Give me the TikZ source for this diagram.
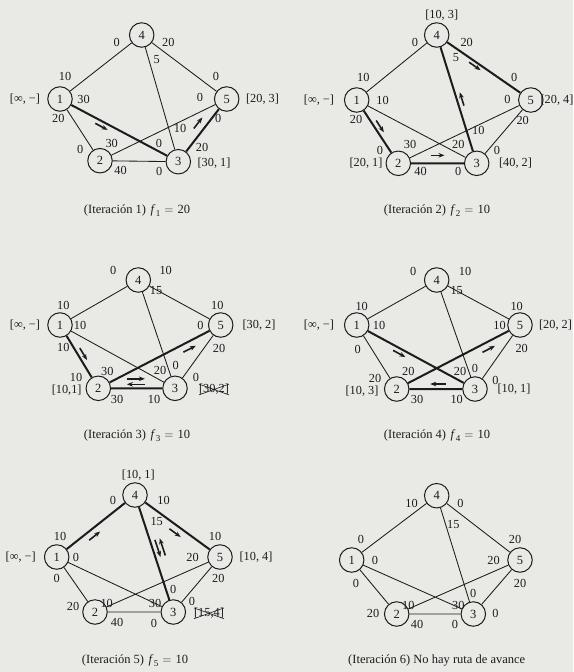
\documentclass[tikz,border=0pt]{standalone}
\usepackage{fontspec}
\setmainfont{Liberation Serif}
\usetikzlibrary{calc,arrows.meta}
\definecolor{bgc}{RGB}{233,233,230}
\definecolor{ink}{RGB}{28,28,28}
\tikzset{
  nd/.style={circle,draw=ink,line width=1pt,minimum size=24.5pt,inner sep=0pt,text=ink,font=\fontsize{12.5}{14}\selectfont},
  lbl/.style={inner sep=0pt,text=ink,font=\fontsize{12.3}{14}\selectfont},
  captxt/.style={inner sep=0pt,text=ink,font=\fontsize{12.5}{15}\selectfont},
  ed/.style={draw=ink,line width=0.85pt},
  edt/.style={draw=ink,line width=2pt},
  flowar/.style={draw=ink,line width=1.6pt,-{Stealth[length=6pt,width=4.6pt]}},
  rflowar/.style={draw=ink,line width=1.6pt,{Stealth[length=6pt,width=4.6pt]}-},
  xout/.style={draw=ink,line width=0.6pt}
}
\newcount\lbn
\def\lb(#1,#2)#3{\global\advance\lbn by 1\relax\node[lbl] (t\the\lbn) at (#1,#2) {#3};}
\def\flwlen{7pt}
\newcommand\flw[6][flowar]{\draw[#1] ($(#2)!#4!(#3)!\flwlen!(#2)!#5!#6:(#3)$) -- ($(#2)!#4!(#3)!\flwlen!(#3)!#5!#6:(#3)$);}
\newcommand\itf[1]{\hspace{4.5pt}\textit{f}\kern0.4pt\raisebox{-2.6pt}{\fontsize{9}{9}\selectfont #1}\hspace{4pt}$=$\hspace{4pt}}
\begin{document}
\begin{tikzpicture}[x=1pt,y=-1pt]
\fill[bgc] (0,0) rectangle (573,672);
\useasboundingbox (0,0) rectangle (573,672);

% ================= Panel 1
\node[nd] (a1) at (60,99) {1};
\node[nd] (a2) at (100,160.7) {2};
\node[nd] (a3) at (178.3,161.7) {3};
\node[nd] (a4) at (141.7,35) {4};
\node[nd] (a5) at (226.7,99) {5};
\draw[ed] (a1)--(a4) (a4)--(a5) (a4)--(a3) (a1)--(a2) (a2)--(a5) (a2)--(a3);
\draw[edt] (a1)--(a3) (a3)--(a5);
\flw{a1}{a3}{0.37}{5pt}{-90}
\flw{a3}{a5}{0.54}{8pt}{90}
\lb(116.7,42.7){0} \lb(168.3,42.7){20} \lb(156.7,59.3){5}
\lb(65,76.7){10} \lb(83.5,99){30} \lb(58.3,118.3){20} \lb(25,99){[∞, −]}
\lb(216,76.7){0} \lb(200,97.3){0} \lb(218.3,118.8){0} \lb(262.5,99){[20, 3]}
\lb(80.2,149){0} \lb(111.7,143.3){30} \lb(120.5,170.5){40}
\lb(159,143.3){0} \lb(180,128.3){10} \lb(202,147.3){20} \lb(159.3,171){0} \lb(214,163.3){[30, 1]}
\node[captxt] (c1) at (137,210.7) {(Iteración 1)\itf{1}20};

% ================= Panel 2
\node[nd] (b1) at (356.7,100) {1};
\node[nd] (b2) at (398.3,163.3) {2};
\node[nd] (b3) at (476.7,163.3) {3};
\node[nd] (b4) at (436.7,35) {4};
\node[nd] (b5) at (530.8,100) {5};
\draw[ed] (b1)--(b4) (b1)--(b3) (b2)--(b5) (b3)--(b5);
\draw[edt] (b1)--(b2) (b2)--(b3) (b3)--(b4) (b4)--(b5);
\flw{b1}{b2}{0.46}{5pt}{90}
\flw{b2}{b3}{0.5}{8pt}{90}
\flw{b3}{b4}{0.49}{5pt}{-90}
\flw{b4}{b5}{0.43}{4pt}{-90}
\lb(441.7,15){[10, 3]} \lb(415,42.7){0} \lb(466.7,42.7){20} \lb(456,57.3){5}
\lb(363.3,77.3){10} \lb(382.5,100){10} \lb(356,119.8){20} \lb(319,100){[∞, −]}
\lb(514.3,77.3){0} \lb(507.5,99.3){0} \lb(522.7,120.5){20} \lb(557,100){[20, 4]}
\lb(380,150.7){0} \lb(410,144){30} \lb(420.5,171){40} \lb(366,163.3){[20, 1]}
\lb(458.3,144){20} \lb(478.3,130.7){10} \lb(497,150.7){0} \lb(458.3,171){0} \lb(515.5,163.3){[40, 2]}
\node[captxt] (c2) at (437,210.7) {(Iteración 2)\itf{2}10};

% ================= Panel 3
\node[nd] (e1) at (60,325) {1};
\node[nd] (e2) at (98.3,388.3) {2};
\node[nd] (e3) at (175,388.3) {3};
\node[nd] (e4) at (138.3,280) {4};
\node[nd] (e5) at (220.7,325) {5};
\draw[ed] (e1)--(e4) (e4)--(e5) (e4)--(e3) (e1)--(e3) (e3)--(e5);
\draw[edt] (e1)--(e2) (e2)--(e3) (e2)--(e5);
\flw{e1}{e2}{0.5}{5pt}{90}
\flw{e2}{e5}{0.72}{7pt}{-90}
\def\flwlen{9pt}
\flw{e2}{e3}{0.49}{9.5pt}{90}
\flw[rflowar]{e2}{e3}{0.49}{4pt}{90}
\def\flwlen{7pt}
\lb(113.3,270.7){0} \lb(165.7,270.7){10} \lb(156,290.7){15}
\lb(63.3,305){10} \lb(80,325){10} \lb(63.3,347){10} \lb(25,325){[∞, −]}
\lb(217.3,305.7){10} \lb(200.5,325){0} \lb(219,348){20} \lb(259,325){[30, 2]}
\lb(76,377.3){10} \lb(66.7,390.5){[10,1]} \lb(107.3,371){30} \lb(117,399.5){30}
\lb(160,370){20} \lb(175.7,365){0} \lb(196,377.7){0} \lb(154,399.5){10}
\node[lbl] (x3) at (214,389.5) {[30,2]};
\draw[xout] (x3.north west)--(x3.south east) (x3.south west)--(x3.north east);
\node[captxt] (c3) at (137,435.7) {(Iteración 3)\itf{3}10};

% ================= Panel 4
\node[nd] (g1) at (356.7,325) {1};
\node[nd] (g2) at (396.7,389) {2};
\node[nd] (g3) at (475,389) {3};
\node[nd] (g4) at (436.7,280) {4};
\node[nd] (g5) at (520,325) {5};
\draw[ed] (g1)--(g4) (g4)--(g5) (g4)--(g3) (g1)--(g2) (g3)--(g5);
\draw[edt] (g1)--(g3) (g2)--(g3) (g2)--(g5);
\flw{g1}{g3}{0.38}{5pt}{-90}
\flw{g2}{g5}{0.72}{7pt}{-90}
\def\flwlen{8pt}
\flw[rflowar]{g2}{g3}{0.53}{5pt}{90}
\def\flwlen{7pt}
\lb(413.3,271.7){0} \lb(465,271.7){10} \lb(456.7,290.7){15}
\lb(361.7,306.7){10} \lb(379,325){10} \lb(357.7,349){0} \lb(319,325){[∞, −]}
\lb(516.7,306.7){10} \lb(499.5,325){10} \lb(521.7,348){20} \lb(555.5,325){[20, 2]}
\lb(375,378.5){20} \lb(362,391){[10, 3]} \lb(408.3,371.7){20} \lb(417,399.5){30}
\lb(460,371.7){20} \lb(475,368.3){0} \lb(495.5,380.7){0} \lb(456.7,399.5){10} \lb(514,389){[10, 1]}
\node[captxt] (c4) at (437,435.7) {(Iteración 4)\itf{4}10};

% ================= Panel 5
\node[nd] (h1) at (56.7,557) {1};
\node[nd] (h2) at (95,612) {2};
\node[nd] (h3) at (173.3,612) {3};
\node[nd] (h4) at (135,495) {4};
\node[nd] (h5) at (220,557) {5};
\draw[ed] (h1)--(h2) (h1)--(h3) (h2)--(h5) (h2)--(h3) (h3)--(h5);
\draw[edt] (h1)--(h4) (h4)--(h5) (h4)--(h3);
\flw{h1}{h4}{0.43}{7pt}{-90}
\flw{h4}{h5}{0.52}{7pt}{-90}
\def\flwlen{9pt}
\flw{h4}{h3}{0.47}{5pt}{90}
\flw[rflowar]{h4}{h3}{0.47}{10pt}{90}
\def\flwlen{7pt}
\lb(138.3,475){[10, 1]} \lb(113,500){0} \lb(163.5,500){10} \lb(156.7,521.7){15}
\lb(60,536){10} \lb(76,557){0} \lb(56.7,578.8){0} \lb(20.7,557){[∞, −]}
\lb(215,536){10} \lb(192.5,557){20} \lb(218.3,578.8){20} \lb(256,557){[10, 4]}
\lb(73,606.7){20} \lb(106.7,603.3){10} \lb(117,622.2){40}
\lb(155,603.3){30} \lb(173.3,589.3){0} \lb(192,601.7){0} \lb(154,623){0}
\node[lbl] (x5) at (209,613.3) {[15,4]};
\draw[xout] (x5.north west)--(x5.south east) (x5.south west)--(x5.north east);
\node[captxt] (c5) at (135,660.7) {(Iteración 5)\itf{5}10};

% ================= Panel 6
\node[nd] (k1) at (351.7,560) {1};
\node[nd] (k2) at (396.7,614) {2};
\node[nd] (k3) at (473.3,614) {3};
\node[nd] (k4) at (436.7,495.7) {4};
\node[nd] (k5) at (520,560) {5};
\draw[ed] (k1)--(k4) (k4)--(k5) (k4)--(k3) (k1)--(k2) (k1)--(k3) (k2)--(k5) (k2)--(k3) (k3)--(k5);
\lb(411.5,503.3){10} \lb(460.5,503.3){0} \lb(453.3,524){15}
\lb(361,539.3){0} \lb(375,560.7){0} \lb(356,583){0}
\lb(515,539.3){20} \lb(493.5,560.7){20} \lb(520,583){20}
\lb(373,613.3){20} \lb(408.3,605){10} \lb(417,624.3){40}
\lb(458.3,605){30} \lb(473.3,593.3){0} \lb(495.5,613.3){0} \lb(455,624.3){0}
\node[captxt] (c6) at (436.7,660.7) {(Iteración 6) No hay ruta de avance};
\end{tikzpicture}
\end{document}
